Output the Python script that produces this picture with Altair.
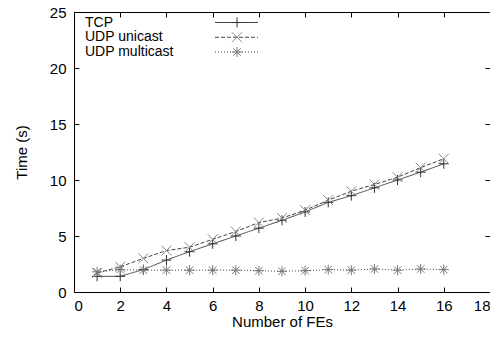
import altair as alt
import pandas as pd

fes = list(range(1, 17))
tcp = [1.4, 1.4, 2.0, 2.85, 3.6, 4.3, 5.0, 5.7, 6.4, 7.15, 8.0, 8.6, 9.3, 10.0, 10.7, 11.45]
udp_unicast = [1.7, 2.25, 3.0, 3.7, 4.0, 4.7, 5.4, 6.2, 6.6, 7.3, 8.2, 9.0, 9.6, 10.25, 11.1, 11.9]
udp_multicast = [1.8, 2.0, 1.95, 1.95, 1.95, 1.95, 1.95, 1.9, 1.85, 1.9, 2.0, 1.95, 2.05, 1.95, 2.05, 2.0]
series = ["TCP", "UDP unicast", "UDP multicast"]
x_ticks = [0, 2, 4, 6, 8, 10, 12, 14, 16, 18]
y_ticks = [0, 5, 10, 15, 20, 25]

rows = []
for name, vals in zip(series, [tcp, udp_unicast, udp_multicast]):
    for f, v in zip(fes, vals):
        rows.append({"fes": f, "time": v, "series": name})
df = pd.DataFrame(rows)
leg = pd.DataFrame({"series": series})

FONT = "Liberation Sans"
FS = 15
LFS = 14
PLUS = "M-1,0H1M0,-1V1"
XSHAPE = "M-1,-1L1,1M-1,1L1,-1"
STAR = "M-1,0H1M0,-1V1M-0.75,-0.75L0.75,0.75M-0.75,0.75L0.75,-0.75"

xscale = alt.Scale(domain=[0, 18], nice=False, zero=False)
yscale = alt.Scale(domain=[0, 25], nice=False)
dash = alt.Scale(domain=series, range=[[1, 0], [4, 2], [1, 2]])
shape = alt.Scale(domain=series, range=[PLUS, XSHAPE, STAR])
pcolor = alt.Scale(domain=series, range=["#333333", "#888888", "#777777"])

main_x_axis = alt.Axis(values=x_ticks, ticks=False, tickSize=0, domain=False, grid=False,
                       labelPadding=6, title="Number of FEs", titlePadding=1,
                       labelFont=FONT, labelFontSize=FS, titleFont=FONT, titleFontSize=FS,
                       titleFontWeight="normal", labelColor="black", titleColor="black")
main_y_axis = alt.Axis(values=y_ticks, ticks=False, tickSize=0, domain=False, grid=False,
                       labelPadding=8, title="Time (s)", titlePadding=20,
                       labelFont=FONT, labelFontSize=FS, titleFont=FONT, titleFontSize=FS,
                       titleFontWeight="normal", labelColor="black", titleColor="black")

def tick_axis(values, orient):
    return alt.Axis(values=values, orient=orient, labels=False, domain=False, grid=False,
                    ticks=True, tickSize=5, offset=-5, tickColor="black", title=None)

base = alt.Chart(df)

lines = base.mark_line(strokeWidth=1, color="#444444").encode(
    x=alt.X("fes:Q", scale=xscale, axis=main_x_axis),
    y=alt.Y("time:Q", scale=yscale, axis=main_y_axis),
    strokeDash=alt.StrokeDash("series:N", scale=dash, legend=None),
    detail="series:N",
)

points = base.mark_point(size=100, filled=False, strokeWidth=1, opacity=1).encode(
    x=alt.X("fes:Q", scale=xscale, axis=None),
    y=alt.Y("time:Q", scale=yscale, axis=None),
    shape=alt.Shape("series:N", scale=shape, legend=None),
    color=alt.Color("series:N", scale=pcolor, legend=None),
)

ticks_bl = base.mark_point(opacity=0).encode(
    x=alt.X("fes:Q", scale=xscale, axis=tick_axis(x_ticks, "bottom")),
    y=alt.Y("time:Q", scale=yscale, axis=tick_axis(y_ticks, "left")),
)
ticks_tr = base.mark_point(opacity=0).encode(
    x=alt.X("fes:Q", scale=xscale, axis=tick_axis(x_ticks, "top")),
    y=alt.Y("time:Q", scale=yscale, axis=tick_axis(y_ticks, "right")),
)

legy = alt.Scale(type="point", domain=series, range=[10.5, 40], padding=0)
lbase = alt.Chart(leg)
leg_text = lbase.mark_text(align="left", baseline="middle", font=FONT, fontSize=LFS, color="black").encode(
    x=alt.value(11),
    y=alt.Y("series:N", scale=legy, axis=None),
    text="series:N",
)
leg_rule = lbase.mark_rule(strokeWidth=1, color="#444444").encode(
    x=alt.value(141), x2=alt.value(184),
    y=alt.Y("series:N", scale=legy, axis=None),
    strokeDash=alt.StrokeDash("series:N", scale=dash, legend=None),
)
leg_pts = lbase.mark_point(size=100, filled=False, strokeWidth=1, opacity=1).encode(
    x=alt.value(163),
    y=alt.Y("series:N", scale=legy, axis=None),
    shape=alt.Shape("series:N", scale=shape, legend=None),
    color=alt.Color("series:N", scale=pcolor, legend=None),
)

chart = alt.layer(lines, points, ticks_bl, ticks_tr, leg_text, leg_rule, leg_pts).resolve_scale(
    y="independent"
).resolve_axis(x="independent", y="independent").properties(
    width=416, height=280,
    autosize=alt.AutoSizeParams(type="none"),
    padding={"left": 66, "top": 4, "right": 0, "bottom": 38},
    background="white",
).configure_view(stroke="black", strokeWidth=1)

chart.save("out.html", embed_options={"renderer": "svg", "actions": False})
